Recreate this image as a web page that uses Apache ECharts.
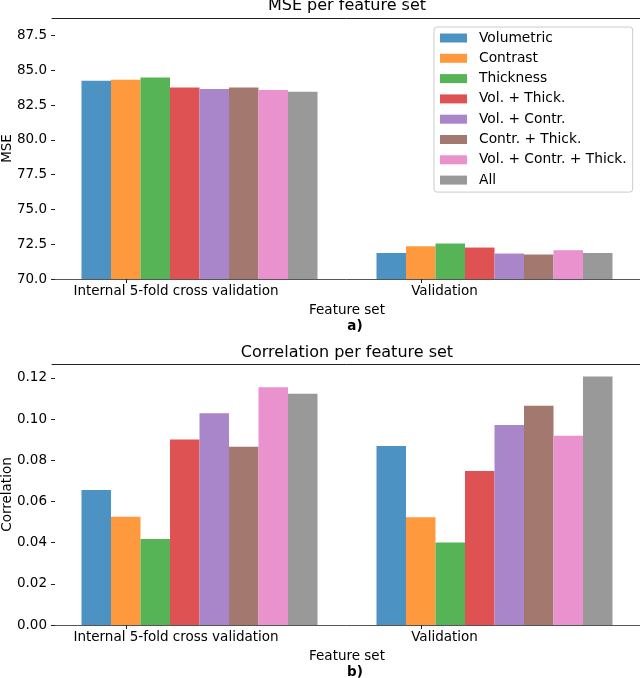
<!DOCTYPE html>
<html>
<head>
<meta charset="utf-8">
<script src="https://cdn.jsdelivr.net/npm/echarts@6/dist/echarts.min.js"></script>
<style>
  html, body { margin: 0; padding: 0; background: #fff; }
  #main { width: 640px; height: 678px; }
</style>
</head>
<body>
<div id="main"></div>
<script>
var categories = ['Internal 5-fold cross validation', 'Validation'];
var featureSets = ['Volumetric', 'Contrast', 'Thickness', 'Vol. + Thick.', 'Vol. + Contr.',
    'Contr. + Thick.', 'Vol. + Contr. + Thick.', 'All'];

// MSE, one value per feature set
var mseCv = [84.24, 84.32, 84.48, 83.76, 83.65, 83.76, 83.57, 83.45];
var mseVal = [71.87, 72.36, 72.55, 72.26, 71.83, 71.76, 72.07, 71.87];

// correlation, one value per feature set
var corrCv = [0.0655, 0.0526, 0.0417, 0.0901, 0.1028, 0.0865, 0.1154, 0.1123];
var corrVal = [0.0869, 0.0523, 0.0401, 0.0747, 0.0971, 0.1064, 0.0919, 0.1206];

var mseTicks = [70, 72.5, 75, 77.5, 80, 82.5, 85, 87.5];
var corrTicks = [0, 0.02, 0.04, 0.06, 0.08, 0.10, 0.12];
// x ticks sit on the second bar of each group, in bar-width units (10 per group)
var groupTicks = [2.5, 12.5];

// tab10 at alpha 0.8 over white
var colors = ['#4c92c3', '#ff993e', '#56b356', '#de5253', '#a985ca', '#a3786f', '#e992ce', '#999999'];

var FONT = 'DejaVu Sans';

function catAxis(gridIndex) {
    return {
        type: 'category',
        gridIndex: gridIndex,
        position: 'bottom',
        data: categories,
        axisLine: { lineStyle: { color: '#555', width: 1 } },
        axisTick: { show: false },
        axisLabel: {
            margin: 5,
            color: '#000',
            formatter: function (value, idx) {
                return '{c' + idx + '|' + value + '}';
            },
            rich: {
                c0: { fontFamily: FONT, fontSize: 13.5, color: '#000', padding: [0, 47, 0, 0] },
                c1: { fontFamily: FONT, fontSize: 13.5, color: '#000', padding: [0, 100, 0, 0] }
            }
        },
        name: 'Feature set',
        nameLocation: 'middle',
        nameGap: 24,
        nameMoveOverlap: false,
        nameTextStyle: { fontFamily: FONT, fontSize: 13.5, color: '#000' }
    };
}

function tickAxis(gridIndex) {
    // only used to place the two tick marks under the bar groups
    return {
        type: 'value',
        gridIndex: gridIndex,
        position: 'bottom',
        min: 0,
        max: 20,
        axisLine: { show: false },
        splitLine: { show: false },
        axisLabel: { show: false },
        axisTick: { show: true, length: 4, customValues: groupTicks, lineStyle: { color: '#222' } }
    };
}

function topAxis(gridIndex) {
    return {
        type: 'category',
        gridIndex: gridIndex,
        position: 'top',
        data: categories,
        axisLine: { lineStyle: { color: '#222', width: 1 } },
        axisTick: { show: false },
        axisLabel: { show: false }
    };
}

function valAxis(gridIndex, name, min, max, ticks, digits) {
    return {
        type: 'value',
        gridIndex: gridIndex,
        min: min,
        max: max,
        offset: -3,
        name: name,
        nameLocation: 'middle',
        nameGap: 41,
        nameMoveOverlap: false,
        nameTextStyle: { fontFamily: FONT, fontSize: 13.5, color: '#000' },
        axisLine: { show: false },
        splitLine: { show: false },
        axisTick: { show: true, length: 4, customValues: ticks, lineStyle: { color: '#222' } },
        axisLabel: {
            customValues: ticks,
            margin: 8,
            fontFamily: FONT,
            fontSize: 13.5,
            color: '#000',
            formatter: function (v) { return v.toFixed(digits); }
        }
    };
}

var series = [];
featureSets.forEach(function (name, i) {
    series.push({
        name: name,
        type: 'bar',
        xAxisIndex: 0,
        yAxisIndex: 0,
        data: [mseCv[i], mseVal[i]],
        barGap: '0%',
        barCategoryGap: '20%',
        itemStyle: { color: colors[i] }
    });
});
featureSets.forEach(function (name, i) {
    series.push({
        name: name,
        type: 'bar',
        xAxisIndex: 3,
        yAxisIndex: 1,
        data: [corrCv[i], corrVal[i]],
        barGap: '0%',
        barCategoryGap: '20%',
        itemStyle: { color: colors[i] }
    });
});

var chart = echarts.init(document.getElementById('main'));
var option = {
    animation: false,
    backgroundColor: '#fff',
    textStyle: { fontFamily: FONT },
    title: [
        { text: 'MSE per feature set', left: 347, top: -2, textAlign: 'center', padding: 0,
          textStyle: { fontFamily: FONT, fontSize: 16, fontWeight: 'normal', color: '#000' } },
        { text: 'a)', left: 355, top: 319, textAlign: 'center', padding: 0,
          textStyle: { fontFamily: FONT, fontSize: 13.5, fontWeight: 'bold', color: '#000' } },
        { text: 'Correlation per feature set', left: 347, top: 345, textAlign: 'center', padding: 0,
          textStyle: { fontFamily: FONT, fontSize: 16, fontWeight: 'normal', color: '#000' } },
        { text: 'b)', left: 355, top: 665, textAlign: 'center', padding: 0,
          textStyle: { fontFamily: FONT, fontSize: 13.5, fontWeight: 'bold', color: '#000' } }
    ],
    legend: {
        data: featureSets,
        orient: 'vertical',
        left: 434,
        top: 27,
        padding: [4, 6, 5, 6],
        itemGap: 6.3,
        itemWidth: 27,
        itemHeight: 9,
        icon: 'rect',
        backgroundColor: 'rgba(255,255,255,0.8)',
        borderColor: '#cccccc',
        borderWidth: 1,
        borderRadius: 3,
        textStyle: { fontFamily: FONT, fontSize: 13.8, color: '#000', lineHeight: 14, padding: [0, 0, 0, 7] }
    },
    grid: [
        { left: 52, top: 18, width: 590, height: 261, outerBoundsMode: 'none', containLabel: false },
        { left: 52, top: 364, width: 590, height: 261, outerBoundsMode: 'none', containLabel: false }
    ],
    xAxis: [catAxis(0), tickAxis(0), topAxis(0), catAxis(1), tickAxis(1), topAxis(1)],
    yAxis: [
        valAxis(0, 'MSE', 70, 88.75, mseTicks, 1),
        valAxis(1, 'Correlation', 0, 0.1267, corrTicks, 2)
    ],
    series: series
};
chart.setOption(option);
</script>
</body>
</html>
